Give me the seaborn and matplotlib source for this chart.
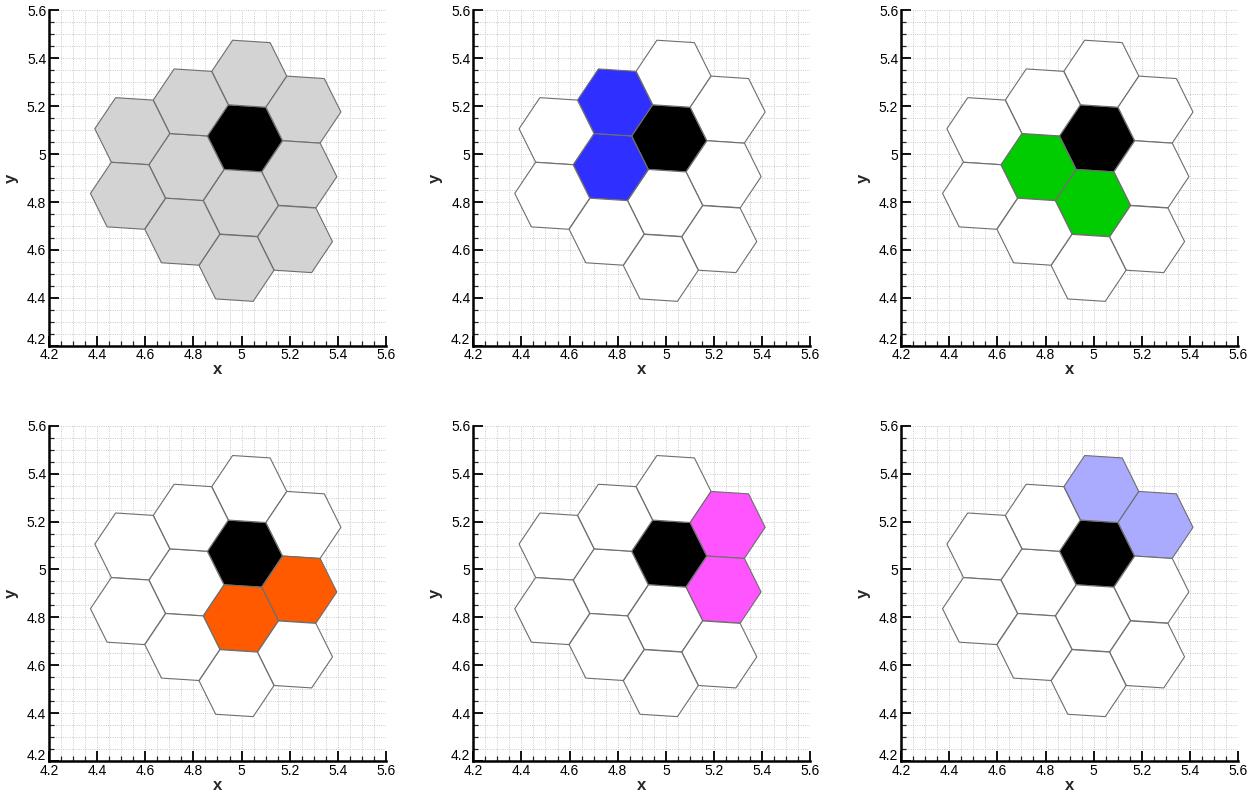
import numpy as np
import matplotlib
matplotlib.use("Agg")
import matplotlib.pyplot as plt
import matplotlib.transforms as mtransforms
from matplotlib.patches import Polygon
from matplotlib.ticker import MultipleLocator
import seaborn as sns

# Hexagon cell centres (x, y)
hex_x = [5.014, 5.032, 5.257, 5.240, 5.222, 4.997, 4.979, 4.771, 4.789, 4.546, 4.528, 4.754]
hex_y = [5.066, 5.336, 5.186, 4.916, 4.645, 4.796, 4.525, 4.946, 5.216, 5.096, 4.826, 4.676]
hex_radius = 0.156
hex_rotation_deg = -3.7

# Index of the reference (black) cell and the highlighted neighbour pairs per panel
center_cell = 0
panel_cells = [
    list(range(1, 12)),  # all surrounding cells
    [8, 7],              # upper-left pair
    [7, 5],              # lower-left pair
    [5, 3],              # lower-right pair
    [3, 2],              # right pair
    [2, 1],              # upper pair
]
panel_colors = ["#d3d3d3", "#2f2fff", "#00cc00", "#ff5a00", "#ff55ff", "#aaaaff"]

tick_values = [4.2, 4.4, 4.6, 4.8, 5.0, 5.2, 5.4, 5.6]
tick_labels = ["4.2", "4.4", "4.6", "4.8", "5", "5.2", "5.4", "5.6"]

sns.set_style("white")
plt.rcParams["font.family"] = ["Liberation Sans", "DejaVu Sans"]

fig = plt.figure(figsize=(12.59, 7.95), dpi=100)

col_left = [0.0389, 0.3759, 0.7157]
row_bottom = [0.5652, 0.0428]
ax_w, ax_h = 0.2677, 0.4216


def hex_vertices(cx, cy):
    ang = np.deg2rad(hex_rotation_deg + 60.0 * np.arange(6))
    return np.column_stack([cx + hex_radius * np.cos(ang), cy + hex_radius * np.sin(ang)])


for k in range(6):
    r, c = divmod(k, 3)
    ax = fig.add_axes([col_left[c], row_bottom[r], ax_w, ax_h])
    ax.set_xlim(4.2, 5.6)
    ax.set_ylim(4.2, 5.6)

    for i, (cx, cy) in enumerate(zip(hex_x, hex_y)):
        if i == center_cell:
            face = "black"
        elif i in panel_cells[k]:
            face = panel_colors[k]
        else:
            face = "white"
        ax.add_patch(Polygon(hex_vertices(cx, cy), closed=True, facecolor=face,
                             edgecolor="#6e6e6e", linewidth=0.8, zorder=3))

    ax.xaxis.set_minor_locator(MultipleLocator(0.05))
    ax.yaxis.set_minor_locator(MultipleLocator(0.05))
    ax.set_xticks(tick_values)
    ax.set_xticklabels(tick_labels)
    ax.set_yticks(tick_values)
    ax.set_yticklabels(tick_labels)
    ax.grid(True, which="both", color="#c2c2c2", linestyle=(0, (1.0, 1.5)), linewidth=0.65, zorder=0)
    ax.set_axisbelow(True)

    ax.tick_params(axis="both", which="major", direction="in", length=7, width=1.3,
                   labelsize=10, pad=2, colors="black", bottom=True, left=True)
    ax.tick_params(axis="both", which="minor", direction="in", length=3.5, width=0.9,
                   bottom=True, left=True)
    sns.despine(ax=ax, top=True, right=True)
    for side in ("left", "bottom"):
        ax.spines[side].set_linewidth(1.8)
        ax.spines[side].set_color("black")

    # lift the lowest y label slightly so it clears the first x label
    ylab0 = ax.get_yticklabels()[0]
    ylab0.set_transform(ylab0.get_transform() +
                        mtransforms.ScaledTranslation(0, 5 / 72, fig.dpi_scale_trans))

    ax.set_xlabel("x", fontsize=12, fontweight="bold", labelpad=0)
    ax.set_ylabel("y", fontsize=12, fontweight="bold", labelpad=6)

fig.savefig("out.png", dpi=100)
